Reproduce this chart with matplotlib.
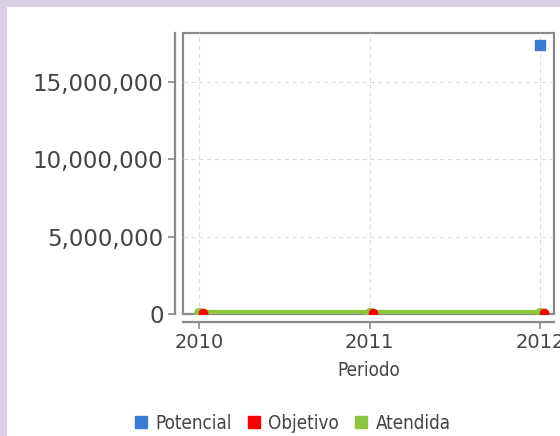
import matplotlib
matplotlib.use('Agg')
import matplotlib.pyplot as plt
import numpy as np
from matplotlib.patches import Rectangle
from matplotlib.lines import Line2D
from matplotlib.ticker import FuncFormatter
from matplotlib.font_manager import FontProperties

plt.rcParams['font.family'] = ['DejaVu Sans']

# Data
periods = [2010, 2011, 2012]
potencial = [np.nan, np.nan, 17400000]
objetivo = [60000, 60000, 60000]
atendida = [40000, 40000, 40000]

c_pot = '#3a7bd5'
c_obj = '#ff0000'
c_ate = '#8cc63f'

fig = plt.figure(figsize=(5.6, 4.36), dpi=100, facecolor='#d9d0e6')
# white panel inside the lavender border
fig.patches.append(Rectangle((7 / 560, 0), 1, 1 - 7 / 436, transform=fig.transFigure,
                             facecolor='white', edgecolor='none', zorder=-5))

ax = fig.add_axes([183 / 560, 1 - 314 / 436, (554 - 183) / 560, (314 - 33) / 436])
ax.set_facecolor('white')
ax.patch.set_edgecolor('#8a8a8a')
ax.patch.set_linewidth(1.6)

ax.plot(periods, atendida, color=c_ate, lw=4.5, marker='o', ms=7, zorder=3,
        solid_capstyle='butt', label='Atendida')
ax.plot(np.array(periods) + 0.02, objetivo, color=c_obj, lw=0, marker='o', ms=6,
        zorder=4, label='Objetivo')
ax.plot(periods, potencial, color=c_pot, lw=0, marker='s', ms=7, zorder=5,
        label='Potencial')

ax.set_xlim(2009.905, 2012.08)
ax.set_ylim(0, 18150000)
ax.set_xticks(periods)
ax.set_yticks([0, 5000000, 10000000, 15000000])
ax.yaxis.set_major_formatter(FuncFormatter(lambda v, p: f'{int(v):,}'))

ax.grid(True, color='#dddddd', linestyle=(0, (4, 3)), lw=0.8)
ax.set_axisbelow(True)

for s in ['top', 'right']:
    ax.spines[s].set_visible(False)
for s in ['left', 'bottom']:
    ax.spines[s].set_position(('outward', 6))
    ax.spines[s].set_color('#8a8a8a')
    ax.spines[s].set_linewidth(1.6)

ax.tick_params(axis='y', labelsize=16.5, colors='#8a8a8a', labelcolor='#444444',
               length=5, width=1.2, pad=3)
ax.tick_params(axis='x', labelsize=14, colors='#8a8a8a', labelcolor='#444444',
               length=5, width=1.2, pad=3)

xlab_font = FontProperties(family='DejaVu Sans', stretch='condensed', size=13.5)
leg_font = FontProperties(family='DejaVu Sans', stretch='condensed', size=13.5)
ax.set_xlabel('Periodo', fontproperties=xlab_font, color='#444444', labelpad=6)

handles = [Line2D([], [], color=c, marker='s', lw=0, ms=9) for c in (c_pot, c_obj, c_ate)]
fig.legend(handles, ['Potencial', 'Objetivo', 'Atendida'], loc='center',
           bbox_to_anchor=(292 / 560, 1 - 423 / 436), ncol=3, frameon=False,
           prop=leg_font, handlelength=0.8,
           handletextpad=0.35, columnspacing=0.8, labelcolor='#444444')

fig.savefig('out.png', dpi=100, facecolor=fig.get_facecolor())
